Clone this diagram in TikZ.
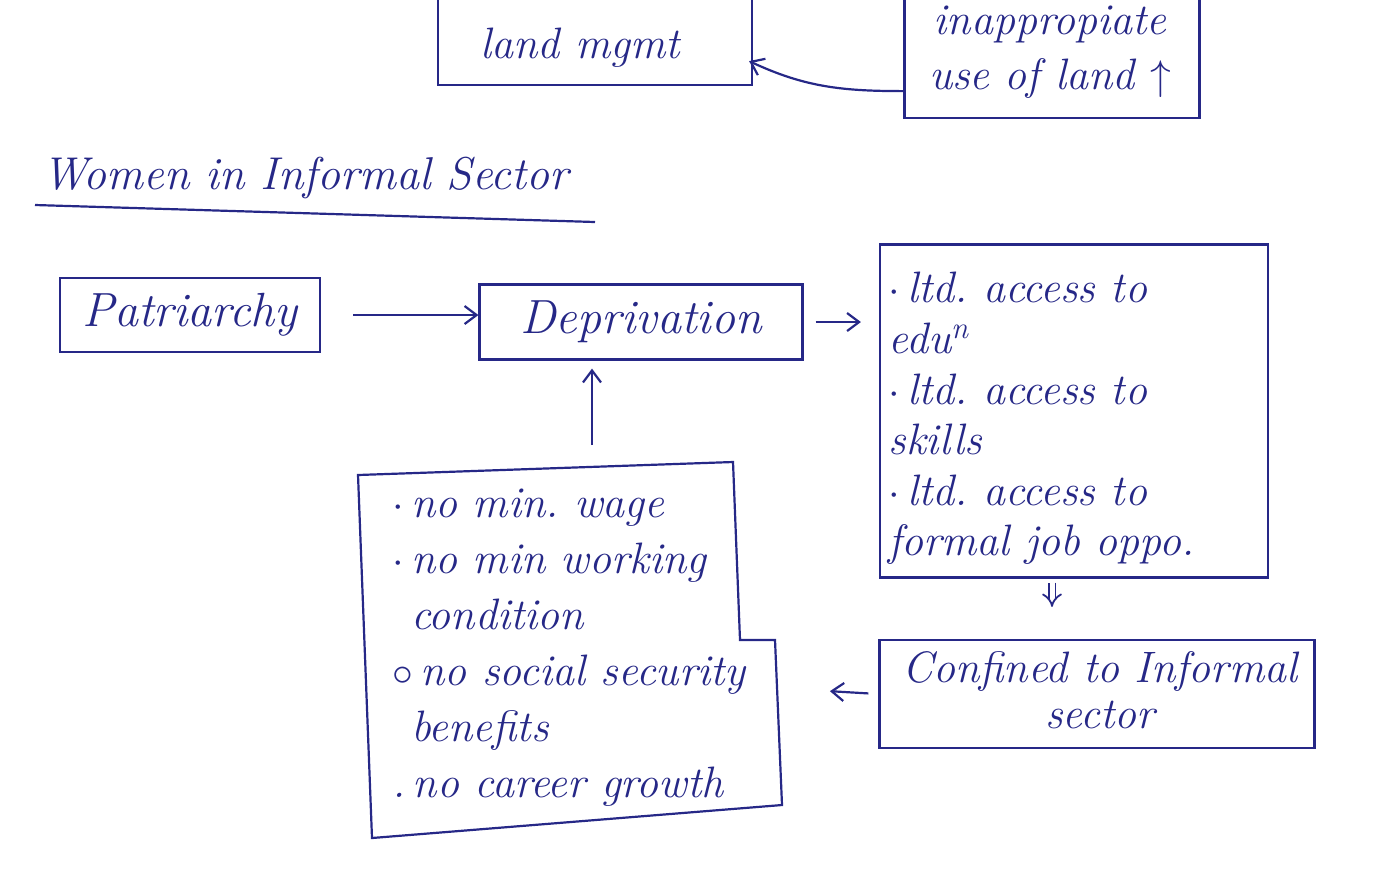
\documentclass[tikz,border=0pt]{standalone}
\usetikzlibrary{arrows.meta,calc}
\definecolor{ink}{RGB}{38,40,135}
\begin{document}
\frenchspacing
\begin{tikzpicture}[x=0.5pt,y=-0.5pt,
  every node/.style={text=ink,font=\fontsize{22}{25}\selectfont\itshape},
  box/.style={draw=ink,line width=1.1pt,inner sep=0pt,minimum width=#1},
  txt/.style={align=left,inner sep=0pt},
  con/.style={draw=ink,line width=1.1pt,-{Straight Barb[length=6pt,width=9pt]}},
  line/.style={draw=ink,line width=1.1pt}]
\useasboundingbox (0,0) rectangle (1385,880);
\clip (0,0) rectangle (1385,880);
% top boxes
\node[box=157pt,minimum height=72.5pt] (tl) at (595,12.5) {};
\node[txt] (tlt) at (580,48) {land mgmt};
\node[box=147.5pt,minimum height=69pt] (tr) at (1052,49) {};
\node[txt,align=center,font=\fontsize{22}{27.5}\selectfont\itshape] (trt) at (1050,52) {inappropiate\\use of land $\uparrow$};
\draw[con] ($(tr.south west)+(0,-28)$) to[out=180,in=-25] ($(tl.south east)+(-4,-25)$);
% title
\node[anchor=west,inner sep=0pt,font=\fontsize{23}{25}\selectfont\itshape] (title) at (42,178) {Women in Informal Sector};
\draw[line] (35,205) -- (595,222);
% main chain
\node[box=130pt,minimum height=37pt,font=\fontsize{24}{25}\selectfont\itshape] (patr) at (190,315) {Patriarchy};
\node[box=161.5pt,minimum height=37.5pt,font=\fontsize{24}{25}\selectfont\itshape] (dep) at (641,322) {Deprivation};
\node[box=194pt,minimum height=166.5pt] (acc) at (1074,411) {};
\node[txt,anchor=north west,font=\fontsize{22}{25.3}\selectfont\itshape] (acct) at (888,272) {$\cdot$\,ltd. access to\\edu\textsuperscript{n}\\$\cdot$\,ltd. access to\\skills\\$\cdot$\,ltd. access to\\formal job oppo.};
\node[box=217.5pt,minimum height=54pt] (conf) at (1097,694) {};
\node[txt,align=center,font=\fontsize{22}{23}\selectfont\itshape] (conft) at (1100,690) {Confined to Informal\\sector};
% bottom-left box
\draw[line] (358,475) -- (733,462) -- (740,640) -- (775,640) -- (782,805) -- (372,838) -- cycle;
\coordinate (bltop) at (592,465);
\coordinate (blr) at (776,688);
\coordinate (dd) at ($(acc.south)+(-22,0)$);
\node[txt,anchor=north west,font=\fontsize{22}{28}\selectfont\itshape] (blt) at (392,488) {$\cdot$\,no min. wage\\$\cdot$\,no min working\\\phantom{$\cdot$\,}condition\\$\circ$\,no social security\\\phantom{$\cdot$\,}benefits\\.\,no career growth};
% connectors
\draw[con,shorten <=16pt] (patr.east) -- (patr.east -| dep.west);
\draw[con,shorten <=6pt,shorten >=9pt] (dep.east) -- (dep.east -| acc.west);
\draw[draw=ink,line width=0.9pt,double,double distance=2.5pt,-{Implies[length=5pt]},shorten <=2pt,shorten >=16pt] (dd) -- (dd |- conf.north);
\draw[con,shorten <=5pt,shorten >=27pt] (conf.west) -- (blr);
\draw[con,shorten <=10pt,shorten >=4pt] (bltop) -- (bltop |- dep.south);
\end{tikzpicture}
\end{document}
